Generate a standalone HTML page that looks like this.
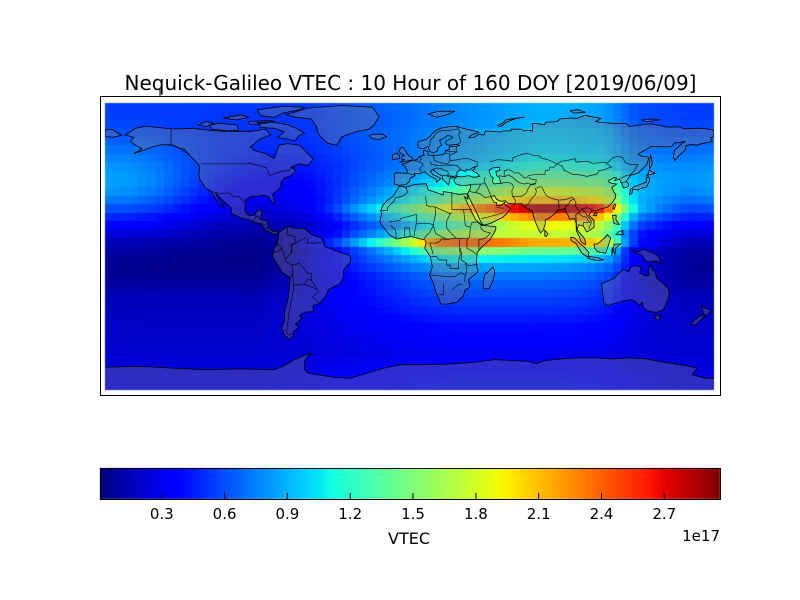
<!DOCTYPE html>
<html><head><meta charset="utf-8">
<style>
html,body{margin:0;padding:0;background:#fff;width:800px;height:600px;overflow:hidden;}
#wrap{position:relative;width:800px;height:600px;}
canvas,svg{position:absolute;left:0;top:0;}
</style></head>
<body>
<div id="wrap">
<canvas id="c" width="800" height="600"></canvas>
<svg id="s" width="800" height="600" xmlns="http://www.w3.org/2000/svg" font-family="'DejaVu Sans','Liberation Sans',sans-serif">
<defs><clipPath id="mc"><rect x="105" y="103" width="609" height="287"/></clipPath></defs>
<text x="410.5" y="90" font-size="20" text-anchor="middle" fill="#000">Nequick-Galileo VTEC : 10 Hour of 160 DOY [2019/06/09]</text>
<g id="land" clip-path="url(#mc)"></g>
<line x1="160" y1="89" x2="160" y2="97" stroke="#000" stroke-width="1"/>
<rect x="100.5" y="96.5" width="620" height="299" fill="none" stroke="#000" stroke-width="1"/>
<rect x="100.5" y="468.5" width="620" height="31" fill="none" stroke="#000" stroke-width="1"/>
<g id="ticks" stroke="#000" stroke-width="1"></g>
<g id="tlab" font-size="15" text-anchor="middle" fill="#000"></g>
<text x="409" y="544" font-size="16" text-anchor="middle" fill="#000">VTEC</text>
<text x="720" y="541" font-size="15" text-anchor="end" fill="#000">1e17</text>
</svg>
</div>
<script>
(function(){
const X0=105,Y0=103,W=609,H=287;
function px(lon){return X0+(lon+180)*W/360;}
function py(lat){return Y0+(85-lat)*H/170;}
function L(xs,ys,x){if(x<=xs[0])return ys[0];for(let i=1;i<xs.length;i++){if(x<=xs[i]){const t=(x-xs[i-1])/(xs[i]-xs[i-1]);return ys[i-1]+t*(ys[i]-ys[i-1]);}}return ys[ys.length-1];}
function jetRGB(t){t=Math.max(0,Math.min(1,t));
 const r=L([0,0.35,0.66,0.89,1],[0,0,1,1,0.5],t);
 const g=L([0,0.125,0.375,0.64,0.91,1],[0,0,1,1,0,0],t);
 const b=L([0,0.11,0.34,0.65,1],[0.5,1,1,0,0],t);
 return 'rgb('+Math.round(r*255)+','+Math.round(g*255)+','+Math.round(b*255)+')';}
const VMIN=0.005,VMAX=2.966;
function jetV(v){return jetRGB((v-VMIN)/(VMAX-VMIN));}
const baseX=[-90,-60,-45,-30,-20,-10,0,10,20,30,45,60,90],baseY=[0.3,0.2,0.18,0.15,0.06,0.02,0.04,0.1,0.2,0.3,0.4,0.5,0.55];
const tX=[-90,-77.5,-67.5,-62.5,-57.5,-52.5,-47.5,-42.5,-37.5,-32.5,-27.5,-22.5,-17.5,-12.5,-7.5,-2.5,2.5,7.5,12.5,17.5,22.5,27.5,32.5,37.5,42.5,47.5,52.5,57.5,62.5,67.5,72.5,77.5,90];
const tY=[0.45,0.4,0.32,0.3,0.33,0.36,0.4,0.45,0.5,0.55,0.6,0.65,0.72,0.85,1.05,1.4,2.15,1.75,1.9,2.3,2.85,2.1,1.8,1.5,1.35,1.15,1.05,1.0,0.97,0.95,0.9,0.88,0.9];
const dX=[0,4,5,6,7,8,9,10,11,12,13,14,15,16,17,17.5,18,18.5,19,20,21,24];
const dnY=[0,0,0.01,0.03,0.12,0.24,0.34,0.45,0.57,0.7,0.8,0.92,1,1,0.95,0.88,0.7,0.4,0.17,0.06,0,0];
const dsY=[0,0,0.02,0.1,0.22,0.4,0.58,0.78,1.06,1.12,1.1,1.06,1,1,0.97,0.92,0.7,0.35,0.14,0.05,0,0];
const dssY=[0,0,0.1,0.25,0.4,0.55,0.7,0.85,0.95,1,1,1,1,0.98,0.92,0.85,0.75,0.5,0.3,0.12,0.03,0];
const evX=[0,1,2,3,4,5,17,18,19,20,21,22,23,24],evY=[0.8,0.55,0.3,0.12,0.03,0,0,0.3,0.7,0.85,0.9,1,0.95,0.8];
function val(lon,lat){
 const lt=((10+lon/15)%24+24)%24;
 const b=L(baseX,baseY,lat);
 const A=L(tX,tY,lat)-b;
 const w=Math.min(1,Math.max(0,(lat-4)/8));
 const ws=Math.min(1,Math.max(0,(-lat-2)/8));
 const ds=ws*L(dX,dssY,lt)+(1-ws)*L(dX,dsY,lt);
 const d=w*L(dX,dnY,lt)+(1-w)*ds;
 const e=L(evX,evY,lt)*0.5*Math.exp(-Math.pow(lat-35,2)/648);
 return b+A*d+e;}
const ctx=document.getElementById('c').getContext('2d');
ctx.fillStyle='#fff';ctx.fillRect(0,0,800,600);
for(let i=0;i<72;i++){const lon=-177.5+5*i;const x0=Math.round(X0+i*W/72),x1=Math.round(X0+(i+1)*W/72);
 for(let j=0;j<34;j++){const lat=82.5-5*j;const y0=Math.round(Y0+j*H/34),y1=Math.round(Y0+(j+1)*H/34);
  ctx.fillStyle=jetV(val(lon,lat));ctx.fillRect(x0,y0,x1-x0,y1-y0);}}
for(let x=100;x<720;x++){ctx.fillStyle=jetRGB((x+0.5-100)/620);ctx.fillRect(x,468,1,31);}
const NS='http://www.w3.org/2000/svg';
const tk=document.getElementById('ticks'),tl=document.getElementById('tlab');
['0.3','0.6','0.9','1.2','1.5','1.8','2.1','2.4','2.7'].forEach(s=>{const v=parseFloat(s);const x=100+(v-VMIN)/(VMAX-VMIN)*620;
 const l=document.createElementNS(NS,'line');l.setAttribute('x1',x.toFixed(1));l.setAttribute('x2',x.toFixed(1));l.setAttribute('y1','499');l.setAttribute('y2','493');tk.appendChild(l);
 const t=document.createElementNS(NS,'text');t.setAttribute('x',x.toFixed(1));t.setAttribute('y','519');t.textContent=s;tl.appendChild(t);});
function P(p,closed){let s='';for(let k=0;k<p.length;k+=2){s+=(k?'L':'M')+px(p[k]).toFixed(1)+' '+py(p[k+1]).toFixed(1);}return s+(closed?'Z':'');}
const land=[
[-168,66,-162,70,-156,71.3,-140,69.6,-128,70,-115,68.5,-95,68,-85,69.5,-82,66,-88,64,-94,59,-92,57,-85,55,-80,52,-79,55,-77,60,-72,61,-65,60,-61,56,-57,52,-60,48,-65,49,-70,47,-67,45,-70,42,-74,40.5,-76,38,-76,35,-81,31,-80,27,-80.5,25.2,-82,27,-83,29.5,-86,30.3,-89,30,-94,29.6,-97,27.5,-97.5,22,-96,19,-94,18.2,-91,18.7,-90.5,21,-87,21.5,-88,16,-84,15,-83.5,11,-81,9,-78,9.3,-77.5,7.5,-80,7.3,-81.5,8,-85.5,10,-87.5,13,-92,14.5,-95,16,-99,16.7,-105,19.5,-105.5,23,-109,26,-112,29,-114.7,31.7,-114,30,-112.5,27.5,-110,24,-109.5,23,-112,24.8,-114,27.5,-115.8,30.3,-117.1,32.5,-120.5,34.5,-124,40,-124.5,43,-124,47,-125,49,-130,54,-133,57.5,-137,58.5,-140,60,-146,60.5,-152,59,-157,57,-163,55,-158,58,-162,60,-165,62.5,-163,64.5,-166,65.5],
[-73,78,-60,82,-40,83.5,-22,82.5,-18,77,-21,72,-24,69.5,-32,68,-40,65,-43,60,-48,61,-52,64.5,-54,67,-55,71,-58,75.5,-67,76.5],
[-62,67,-65,66,-68,62.5,-73,64,-78,64.5,-74,68,-80,70,-88,70.5,-90,73.5,-80,73.7,-72,72,-67,70],
[-118,72,-112,73,-102,72,-101,69,-107,68.5,-117,69.5],
[-80,76.5,-75,79,-65,81,-62,82.5,-75,83,-90,81,-88,77.5],
[-125,72,-120,74,-116,73,-120,71],
[-110,76,-100,78,-95,76.5,-102,75],
[-95,74,-85,74.5,-80,74.2,-88,72.5,-95,72.5],
[-180,65,-180,69,-176,69.5,-172,67,-170,66,-172,65.5,-175,64.7,-178,65],
[-77,8.5,-72,12,-68,10.7,-62,10.7,-58,7,-52,5,-50,0,-44,-2.5,-35,-5.5,-35,-9,-39,-14,-39,-18,-41,-22,-48,-25.5,-49,-28.5,-53,-33.5,-57,-35,-57,-38.5,-62,-39,-65,-41,-63.5,-42.5,-67.5,-46,-65.5,-47.5,-69,-51,-68.5,-53,-71,-55,-74,-52.5,-75.5,-48,-74,-44,-73.5,-37,-71.5,-30,-70.5,-18.5,-75,-15.5,-81,-6,-80,-1,-78,2,-77.5,7],
[-17,21,-16,24,-13,27.5,-9.5,30,-6,35.8,-2,35.1,3,36.8,10,37.2,11,33.5,15,32.2,20,30.5,20,32.5,24,32,29,30.9,32.5,31.2,34.3,31.3,34.5,28,32.5,29.5,35,24,37,20,39,16,43,12.5,51,11.8,51,10,48,4.5,42,-1,40,-3.5,39.5,-10,40.5,-15,35,-19.5,35.5,-24,32.7,-26,32,-29,28,-33,22,-34.2,18.5,-34,17.8,-32,15.5,-27,14.5,-22.5,11.8,-17,13.5,-12,12.3,-6,9,-1,9.8,2.5,9,4,6,4.5,1,6,-4,5.2,-7.5,4.4,-12,7,-15,11,-16.5,12.5,-17.5,14.7,-16.5,19.5],
[49.5,-12,50.5,-15.5,49,-21,47,-25,44,-25,43.5,-21,44.5,-16.5,47,-14.5],
[-9,43,-9,37,-6,36.2,-2,36.8,0,38.5,0.5,40.5,3.2,42,3,43.3,6,43.1,9,44.3,10.5,43,12.3,41.6,15.6,40,16,38,17,39,18.5,40.2,16,41.7,14,42.5,12.3,44.5,13.7,45.7,15,44.5,19.5,41.5,19.5,40,21,38.5,23,36.5,23.5,38,24,40.5,26,40.8,28,41.2,26.5,40.2,26.2,39,27.5,37,30,36.2,32.5,36.1,36,36.6,36,34.5,35,32.5,34.3,31.3,35,29.5,36.5,26.5,39,21.5,41,17,43,13,45,12.8,48,13.8,52,15.7,55,17.2,57,18.9,59.8,22.5,56.4,24.8,56.3,26.2,54,24.2,51.5,24.3,51.5,26,50,26.3,48,29.5,50,30.2,51.5,27.9,54,26.7,56.5,27.1,58,25.7,61.5,25.2,66.5,25.4,67.5,23.8,70,22.5,72.8,21,73,19,74.4,14.5,76.3,10,77.5,8,79,9.5,80.3,13.4,80.3,15.9,82.3,16.6,86.5,19.9,87,21.5,90,22,92,22.5,92.5,20.5,94,18,94.5,16.2,97.7,16.5,98.5,13.5,98.6,9.3,100.3,6,101.3,2.9,103.5,1.3,104.2,1.4,103.5,4.5,102.3,6.1,100.3,8.5,99.1,10,99.9,12.8,101,12.7,102.6,12.2,104.8,8.6,106,9.3,109.2,11.5,109,15.5,106,18.5,108,21.6,110,21,113,22.2,117,23.3,119.5,25.5,121.6,28.5,122,30.8,121,32,120,34,119.5,35,122.5,37,120,37.3,118,38,117.6,39,121,40.8,122.3,40.5,121.3,39,124,39.9,125.3,37.7,126.7,34.5,129.3,35.5,129.5,37,128.3,38.6,129.7,40.8,130.7,42.3,133,42.8,135.5,43.8,138.2,46.5,140.2,48.5,141.4,52.2,141,53,137,53.5,135,54.7,137.2,56,140.5,57.8,143,59.3,148,59.3,152,59,155,59.3,156.8,61.5,160,61.7,163,62.3,160.5,60.5,156.7,57,156,53,156.8,50.9,158.5,53,160,54.5,162,56.2,163.2,57.6,163.4,59.8,167,60.3,170.5,60,172,60.8,179,62.3,178,64.6,180,65,180,68.8,175,69.8,170,70.1,162,69.7,160,70.8,152,70.8,143,72.7,140,72.5,130,71,128,72.8,120,73,113.5,73.5,110,74,113,75.8,107,77,104,77.7,99,76,95,76.1,89,75.5,87,74,80.5,73.6,80,72.2,75,72.8,72.5,72.8,72.8,70.4,72.5,68.5,69,68.9,68,68.3,66,69.5,60,69.5,60,68.5,55,68.4,53.7,67.8,45,68.5,44,66,41,66.5,38,64.5,35,64.4,36.5,66,41,67.5,40,68,35,69.2,32.8,69.8,28,71,24,71,19,70.2,16,69,14,67.5,12.5,65.5,10,63.5,5,62,5,59,6.5,58,8.5,58,10.5,59.3,11,58.8,12,56.5,12.6,56,14.1,55.4,16.5,56.6,16.8,58.6,19,60,17.8,62.7,21,64.6,22.5,65.8,25.4,65.1,25,64,21.5,62.5,21.5,60.7,23,60,28,60.5,29.5,59.9,28,59.5,23.5,59.2,23.5,57.5,21,56.8,21,55.2,19.5,54.4,14.2,53.9,11,54,10.9,56.4,8.5,56.9,8.1,55.5,8.7,53.9,6,53.5,4.4,51.5,1.5,51,-1.5,49.5,-4.5,48.7,-2.5,47.3,-1.2,44.5,-1.8,43.4,-8,43.7],
[47,45,49,46.5,53,47,53.5,45,51,44.5,51.5,42,53,41,54,37.5,50,37,49,38.5,49.5,40.5,48,42],
[28,41.5,28,44,30,45.5,33,44.5,33.5,45.5,35.5,45.3,37,46.5,39,47.2,38,45.5,37,45,38,44.3,40,43.5,41.5,41.5,38,41,35,42,31,41.2],
[-5,50,1.5,51.2,1.7,52.7,0,53.5,-1.5,55,-2,56,-3.5,58.6,-5,58.6,-6.2,56.5,-5,55,-3,54,-4.5,53.3,-4.5,51.7,-3,51.5,-5.7,50],
[-6,52,-6,54,-7.5,55.3,-10,54.2,-10,51.6],
[-22,64,-24,65.5,-22,66.4,-16,66.5,-13.6,65,-18,63.4],
[11,78.5,17,80,27,80.2,22,78,16,76.6],
[52,71.5,55,73,57,75,68,76.7,62,75.5,57,73.5,54,71],
[97,79,104,79.5,100,81,95,80.5],
[137,75,143,75.5,148,75,140,73.8],
[142,46,143.5,49,143,53,142.5,54.3,142,51,141.9,47],
[130,31,131.5,31.5,132,34,135,33.5,137,34.5,140,35,141,37,142,39.5,141.4,41.4,140,40.5,139.8,38,137,37,133,35.5,130.8,34],
[140,41.5,141.5,42.5,145.5,43.3,144,44,141.8,45.4,141.3,43.5],
[80,9.8,81.8,7.5,81,6,80,6.2],
[120.2,22.5,121,21.9,122,25,121,25.2],
[108.6,18.5,110.5,18.2,111,19.8,110,20.1],
[120,18.5,122.2,18.5,122,16,124,13,121,13.5,120.5,15],
[122,7,126.5,7,126,9.5,123.5,8.7],
[109,1.5,111,1.5,115,4.8,117,7,119,5,118,2,116,-4,111,-3,109.5,-1],
[95.3,5.5,97.5,5.2,100.5,2,104,-1,106,-3.5,105.8,-5.8,104.5,-5.8,102,-4,100,-1,98.5,1.7,95.5,3.5],
[105.2,-6.8,106,-6,111,-6.5,114.5,-7.8,112,-8.3,108,-7.8],
[119.5,-5.5,120.5,-1,121,1.3,124.8,1.5,122,-0.9,121.5,-4.5,119.8,-1],
[131,-1.5,135,-3.3,138,-1.6,141,-2.6,145,-4.4,147.5,-6,147.7,-8,150,-10.5,146,-8.5,143.5,-9,141,-9.1,139,-8,137.8,-5.2,134.5,-4,132,-2.8],
[113.5,-22,114,-26,115,-33.5,117,-35,121,-33.8,124,-33,126,-32.3,131,-31.5,134,-32.8,136,-34.8,137.5,-33,138,-35.6,140,-37.8,143.5,-38.8,146.4,-39,150,-37.5,153,-31,153.5,-28,153,-25,150,-22,146,-18.8,145.3,-14.8,143.5,-14,142.5,-10.8,141.6,-13,141.5,-17,139.5,-17.5,136,-15.5,137,-12.2,136.5,-12,132.6,-11.5,131,-12.2,129.5,-15,127,-13.8,125.7,-14.3,122.5,-17,121.5,-18.7,117,-20.6,114.5,-21.8],
[144.6,-40.7,148.3,-40.9,148,-43.2,146,-43.6],
[172.7,-34.5,174.5,-36.5,178.5,-37.7,177,-39.5,175,-41.5,173.8,-39.3],
[172.7,-40.5,174.3,-41.5,171,-44.5,169,-46.6,166.5,-46,168,-44]
];
const ant=[-180,-71.5,-160,-71,-140,-72,-120,-73,-100,-72.5,-80,-73,-75,-71,-68,-67,-62,-64.5,-57,-63.3,-60,-65,-62,-68,-62,-73,-60,-75,-45,-77.5,-35,-78,-28,-76,-15,-72,-5,-70,10,-70,20,-69.8,30,-69.2,40,-68.5,50,-67,60,-67.5,70,-68,75,-69.5,80,-67.5,90,-66.5,100,-66,110,-66,120,-66.5,130,-66,140,-66.5,150,-68.5,160,-70,165,-71,170,-72,167,-76,175,-78,180,-78];
const borders=[
[-123,49,-95,49,-95,49.4,-89,48,-84.5,46.5,-82.5,42,-79,43.2,-76,44.5,-71,45,-69,47.4,-67.8,45],
[-141,69.6,-141,60.3,-137,59,-133,56,-130,55],
[-117.1,32.5,-111,31.3,-106.5,31.8,-104,29.5,-101,29.8,-97.2,25.9],
[-92,14.5,-91,17.8,-89,17.8,-88.5,16],[-89,14,-87,13.3,-85,13],[-85.5,11,-83.6,11],
[25,31.5,25,22,37,22],[9.5,30,10,24.5,12,23.5,15,23.5,24,19.5,25,20],
[-17,21.3,-13,21.3,-13,23,-8.7,27.3,-8.7,28.7,-3.6,30,-1.2,32.1,-2,35],
[-12,14.5,-5.5,15.5,-5.5,16.5,4,19,4,16,4,13.5,12,13.5,14,13,15.5,7.5,22.5,4.2,27.5,5,34,4.6,35.5,5.3,36,11.5,33,12.3,32,22],
[24,19.5,22,15,22,11,24,8.5,27.5,5],[15,23.5,15.5,19.5,14,13],
[12.5,-6,16,-6,17.5,-8,22,-8,22,-11,24,-11,24,-13,29,-13,29,-8.5,30,-4.5,29.5,-1.5,29.5,4.3],
[11.8,-17,13,-17,24,-18,25.3,-17.8,27,-17.9,29,-16,30.4,-15.6,33,-17,32.5,-21],
[20,-22,20,-24.7,20,-28.5,16.5,-28.6],[25.5,-25.5,27,-24,29.5,-22.2,31.3,-22.4],
[34,4.6,34,-1,37.6,-3,39.2,-4.6],[41,-1.7,41,4,45,5,48,8],[36,11.5,37,14.3,40,14.5,42.5,12.5,42,11,44,9,48,8],
[2.7,6.3,3.6,11.7,4,13.5],[8.5,4.5,10,6.5,12,8.5,13,10.5,14.5,13],[-3,5,-2.8,11,0,11,0.5,6],
[-8,4.5,-8,8,-8.5,10,-11,12.5],[12,2.2,16,2,18.5,3.5,18.6,4.5,22.5,4.2],[12,2.2,14,-4.5],
[30.5,-1,30,-2.5,30.8,-3.3,30.5,-8,33,-9.5,35,-11.5,40.5,-10.5],[33,-9.5,34,-14,33,-17],
[-1.8,43.4,3.2,42.4],[2.5,51,6,50,8,49,7.5,47.6,6,46.2,7,44],[6,53.5,7,52,6,50.5],
[14.2,53.9,14.6,51,15,50.8,18.8,49.5,22.5,49],[12,50.3,13,48.6,17,48,22.5,48.3,24,48],
[22.5,49,24,50.8,23.5,53.9,27,55.5,28,56,27.5,57.5,28,59.5],[21,56.8,25,56.2,28,56],[21,55.2,24,55],
[24,50.7,32,52,35,52,40,50,40,47.5,38,47],[22.5,48.3,26.5,48.2,28,48,30,46,29.7,45.2],
[13.7,45.6,16,46.5,19,46,22.5,44.5,23,43.5,22.5,42,26,41.5,28,42],[19.5,42,21,42.3,23,41.3,26,41.2],
[28,60.5,30,61.5,30,63,29,66,30,67.5,29,69,28,71],[12,59,12,61,12.5,63.5,14,64.5,16,67.5,20,69,22,68.5,25,69,28,69.5],
[36,36.8,42,37,44.8,37.2,44,39.5,45,41],[42,37,41,34.5,39,32,36.8,32.3,35.5,33],
[39,32,42,31.1,44.5,29,48,29.5],[44.8,37.2,46,35,47.7,31,48,30],
[42.5,16.6,46,17.3,52,19,55.5,20],[55.5,22.7,52,23,51.5,24.3],
[61,36.6,61.5,35,60.5,33,60.8,29.8,61.7,28.8,63,26.6,61.5,25.2],
[60.8,29.8,64,29.5,66.5,29.9,69,31.6,70,34,71.5,36.5,74.5,37],
[68,23.8,70.5,25.5,72,28,74.5,31,75,32.5,74.5,34.5,77.8,35.5],
[78,35.5,79.5,32.5,81,30,84,28.5,88,27.5,92,27.8,96,29,97.5,28],
[88,27,88.5,22.5],[92,22,92.5,24,94,25,95,27,97.3,28.2],
[97.3,28.2,98.5,25.5,98,24,99.5,22,101,21.5,102,22.4,105,23,106.5,22.5,108,21.5],
[101,21.5,100,20,98,18.5,98.5,17,99,10],[100,20,102,18,104.5,17.5,106,14.5,105,14.3,103,14.3,102.5,12],
[105,14.3,106.5,14.5,107.5,14,106.5,12,106,10.5],[102,22.4,104,20,105,18.5,107,16,107.6,14.5],
[47.5,50,52,51.5,58,51,61,50.5,61,52.5,67,54.8,70,55,73,54,76,54,78,52.5,83,51,87,49],
[53,42,56,41.3,56,45,59,45.5,61,44.5,62,43.5,64.5,43.7,65.5,42.8,66.5,42,68,40.5,69.5,41,70.5,42.2,73.5,42.5,75,42.8,80,42.5,80.3,45,82.5,45.3,83,47,85.5,47,87,49],
[56,41.3,58.5,42.5,61,41,62.5,39.5,64.5,38,66.5,37.3],[53.9,37.3,57,38,60,37.5,61,36.6],
[66.5,37.3,68,37,70,37.6,71.5,36.8,74.5,37.4,75,39.5,73.7,39.5,71,40.2,70.5,41],
[87,49,90.5,47.5,91,45.5,96.5,42.7,100,42.6,105,41.5,111,43,112,45,115.5,45.5,117.5,46.5,119.5,47,116,49.5],
[87,49,90,50.5,92.5,50.8,98,52,98.5,50,102,50.3,106,50.3,108,49.3,112,49.5,115,50,116,49.5],
[116,49.5,117.5,49.7,120,52.5,123,53.5,126,52.7,127.5,49.7,130.5,48.5,135,48.5,133,45,131,43,130.5,42.5],
[124.3,40,126,41,128,42,130.5,42.5],[124.5,38,126.5,38,128.4,38.6],
[-60,5,-60.5,2,-56,2,-54.5,2.3,-52,2.2],[-69.5,-11,-65,-10,-62,-13.5,-60,-16.3,-58,-16,-58,-20,-54.5,-25.5,-53.5,-27,-57.5,-30,-53,-33.7],
[-73.5,-7.5,-70,-4,-69.5,1,-67,2,-64,4,-60.7,5.2],
[-80.3,-3.4,-78,-3,-75.5,-1,-73.5,-7.5,-72.5,-9.5,-69.5,-11,-69,-13,-69,-16,-70,-18,-70.4,-18.3],
[-69,-16,-68.7,-22.8,-67,-22.8,-62.6,-22.3,-60,-19.5,-58,-20],
[-68.7,-22.8,-68.5,-25,-69.5,-30,-70,-33,-71,-38,-71.8,-44,-72,-48,-73,-50,-72,-52,-68.5,-52.3],
[-62.6,-22.3,-58,-24,-54.5,-25.5],[-72,11.7,-72.5,7,-70,6.5,-67.8,6,-67.5,2,-70,1.3,-69.5,-4],
[-79,1.3,-77,0.4,-75.3,-0.1,-75.5,-1]
];
const g=document.getElementById('land');
function addPath(d,attrs){const p=document.createElementNS(NS,'path');p.setAttribute('d',d);for(const k in attrs)p.setAttribute(k,attrs[k]);g.appendChild(p);}
addPath(P(ant.concat([180,-86,-180,-86]),true),{fill:'rgba(128,128,128,0.35)',stroke:'none'});
addPath(land.map(p=>P(p,true)).join(''),{fill:'rgba(128,128,128,0.35)','fill-rule':'evenodd',stroke:'none'});
addPath(borders.map(p=>P(p,false)).join(''),{fill:'none',stroke:'#000','stroke-width':'0.7','stroke-opacity':'0.85'});
addPath(land.map(p=>P(p,true)).join('')+P(ant,false),{fill:'none',stroke:'#000','stroke-width':'0.8','stroke-opacity':'1'});
})();
</script>
</body></html>
